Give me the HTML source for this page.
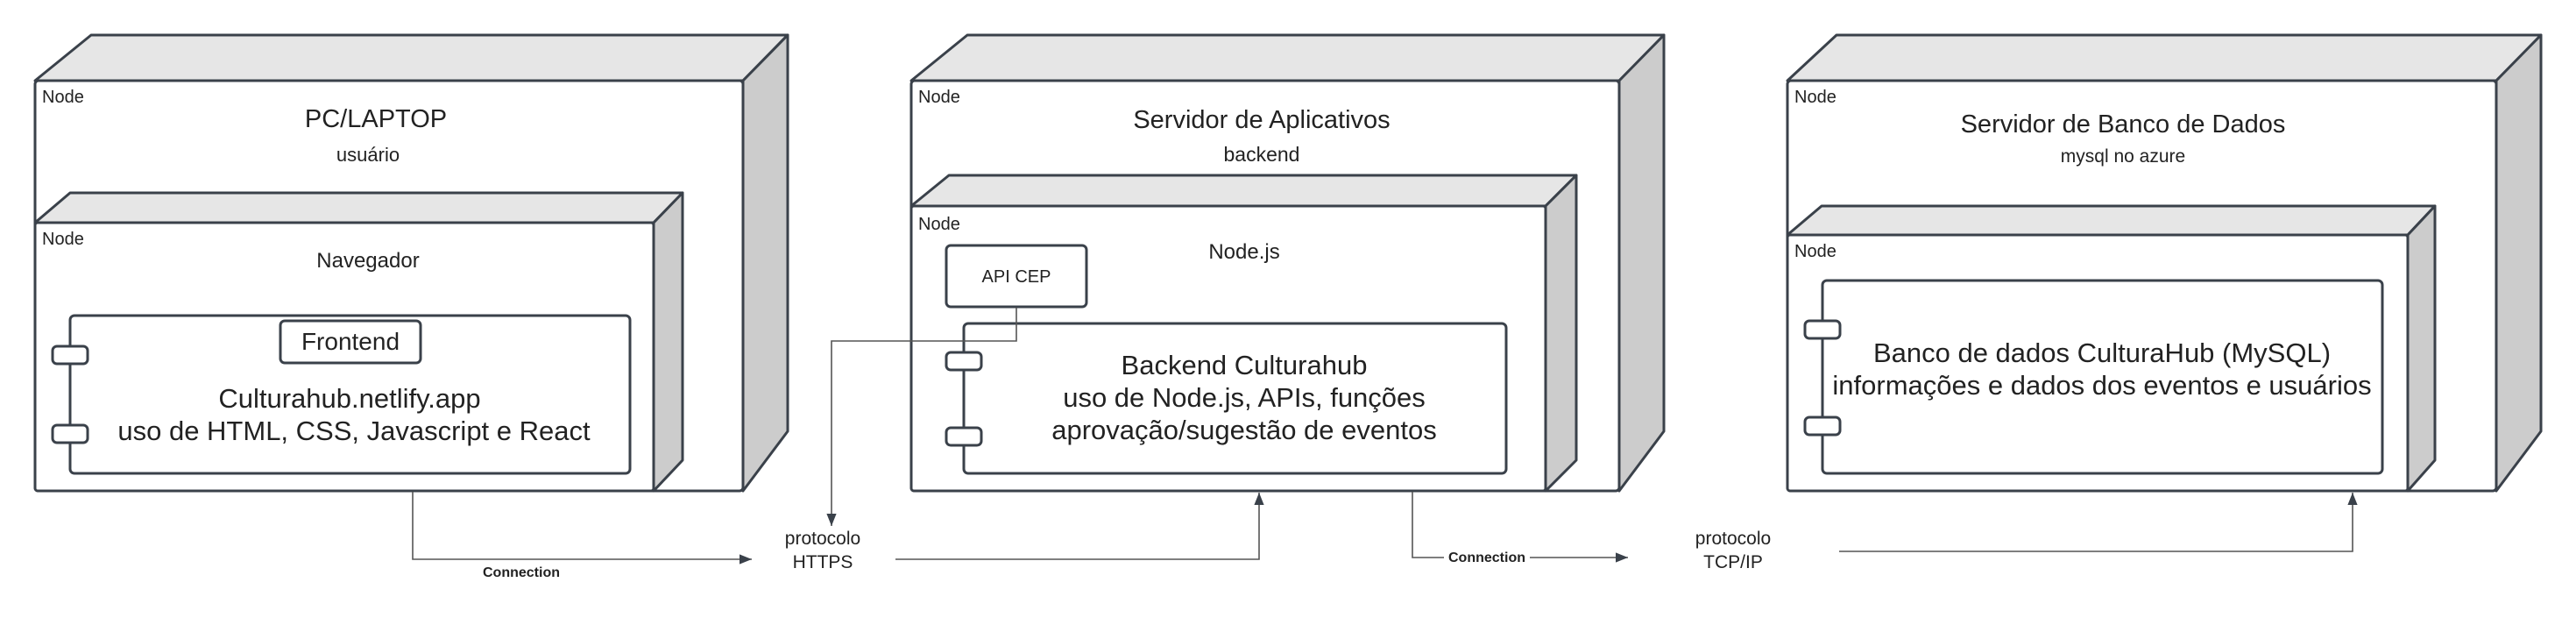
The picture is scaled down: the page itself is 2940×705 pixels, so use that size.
<!DOCTYPE html>
<html><head><meta charset="utf-8"><style>
html,body{margin:0;padding:0;background:#fff;}
svg{display:block;}
text{font-family:"Liberation Sans",sans-serif;fill:#222;}
</style></head><body>
<svg width="2940" height="705" viewBox="0 0 2940 705" xmlns="http://www.w3.org/2000/svg">
<defs>
<marker id="ah2" viewBox="0 0 10 10" markerWidth="14" markerHeight="14" refX="10" refY="5" orient="auto" markerUnits="userSpaceOnUse">
<path d="M0,1 L10,5 L0,9 z" fill="#3a414a"/>
</marker>
</defs>
<g stroke="#3a414a" stroke-width="3" stroke-linejoin="round">
<polygon points="40,92 104,40 899,40 848,92" fill="#e6e6e6"/>
<polygon points="848,92 899,40 899,492 848,560" fill="#cccccc"/>
<rect x="40" y="92" width="808" height="468" rx="4" fill="#fff"/>
<polygon points="40,254 80,220 779,220 746,254" fill="#e6e6e6"/>
<polygon points="746,254 779,220 779,525 746,560" fill="#cccccc"/>
<rect x="40" y="254" width="706" height="306" rx="3" fill="#fff"/>
<rect x="80" y="360" width="639" height="180" rx="5" fill="#fff"/>
<rect x="60" y="395" width="40" height="20" rx="5" fill="#fff"/>
<rect x="60" y="485" width="40" height="20" rx="5" fill="#fff"/>
<rect x="320" y="366" width="160" height="48" rx="5" fill="#fff"/>

<polygon points="1040,92 1104,40 1899,40 1848,92" fill="#e6e6e6"/>
<polygon points="1848,92 1899,40 1899,492 1848,560" fill="#cccccc"/>
<rect x="1040" y="92" width="808" height="468" rx="4" fill="#fff"/>
<polygon points="1040,235 1083,200 1799,200 1764,235" fill="#e6e6e6"/>
<polygon points="1764,235 1799,200 1799,525 1764,560" fill="#cccccc"/>
<rect x="1040" y="235" width="724" height="325" rx="3" fill="#fff"/>
<rect x="1080" y="280" width="160" height="70" rx="5" fill="#fff"/>
<rect x="1100" y="369" width="619" height="171" rx="5" fill="#fff"/>
<rect x="1080" y="402" width="40" height="20" rx="5" fill="#fff"/>
<rect x="1080" y="488" width="40" height="20" rx="5" fill="#fff"/>

<polygon points="2040,92 2096,40 2900,40 2849,92" fill="#e6e6e6"/>
<polygon points="2849,92 2900,40 2900,492 2849,560" fill="#cccccc"/>
<rect x="2040" y="92" width="809" height="468" rx="4" fill="#fff"/>
<polygon points="2040,268 2079,235 2779,235 2748,268" fill="#e6e6e6"/>
<polygon points="2748,268 2779,235 2779,525 2748,560" fill="#cccccc"/>
<rect x="2040" y="268" width="708" height="292" rx="3" fill="#fff"/>
<rect x="2080" y="320" width="639" height="220" rx="5" fill="#fff"/>
<rect x="2060" y="366" width="40" height="20" rx="5" fill="#fff"/>
<rect x="2060" y="476" width="40" height="20" rx="5" fill="#fff"/>
</g>

<g stroke="#555" stroke-width="1.6" fill="none">
<path d="M471,561 V638 H858" marker-end="url(#ah2)"/>
<path d="M1160,351 V389 H949 V600" marker-end="url(#ah2)"/>
<path d="M1022,638 H1437 V562" marker-end="url(#ah2)"/>
<path d="M1612,561 V636 H1858" marker-end="url(#ah2)"/>
<path d="M2099,629 H2685 V562" marker-end="url(#ah2)"/>
</g>
<rect x="1648" y="628" width="98" height="16" fill="#fff"/>

<g font-size="20">
<text x="48" y="117">Node</text>
<text x="48" y="279">Node</text>
<text x="1048" y="117">Node</text>
<text x="1048" y="262">Node</text>
<text x="2048" y="117">Node</text>
<text x="2048" y="293">Node</text>
</g>
<g text-anchor="middle">
<text x="429" y="145" font-size="29">PC/LAPTOP</text>
<text x="420" y="184" font-size="22">usuário</text>
<text x="420" y="305" font-size="24">Navegador</text>
<text x="400" y="399" font-size="28">Frontend</text>
<text x="399" y="465" font-size="31">Culturahub.netlify.app</text>
<text x="404" y="502" font-size="31">uso de HTML, CSS, Javascript e React</text>

<text x="1440" y="146" font-size="29">Servidor de Aplicativos</text>
<text x="1440" y="184" font-size="23">backend</text>
<text x="1420" y="295" font-size="24">Node.js</text>
<text x="1160" y="322" font-size="20">API CEP</text>
<text x="1420" y="427" font-size="31">Backend Culturahub</text>
<text x="1420" y="464" font-size="31">uso de Node.js, APIs, funções</text>
<text x="1420" y="501" font-size="31">aprovação/sugestão de eventos</text>

<text x="2423" y="151" font-size="29">Servidor de Banco de Dados</text>
<text x="2423" y="185" font-size="21">mysql no azure</text>
<text x="2399" y="413" font-size="31">Banco de dados CulturaHub (MySQL)</text>
<text x="2399" y="450" font-size="31">informações e dados dos eventos e usuários</text>

<text x="939" y="621" font-size="21">protocolo</text>
<text x="939" y="648" font-size="21">HTTPS</text>
<text x="1978" y="621" font-size="21">protocolo</text>
<text x="1978" y="648" font-size="21">TCP/IP</text>
<text x="595" y="658" font-size="16" font-weight="bold">Connection</text>
<text x="1697" y="641" font-size="16" font-weight="bold">Connection</text>
</g>
</svg>
</body></html>
